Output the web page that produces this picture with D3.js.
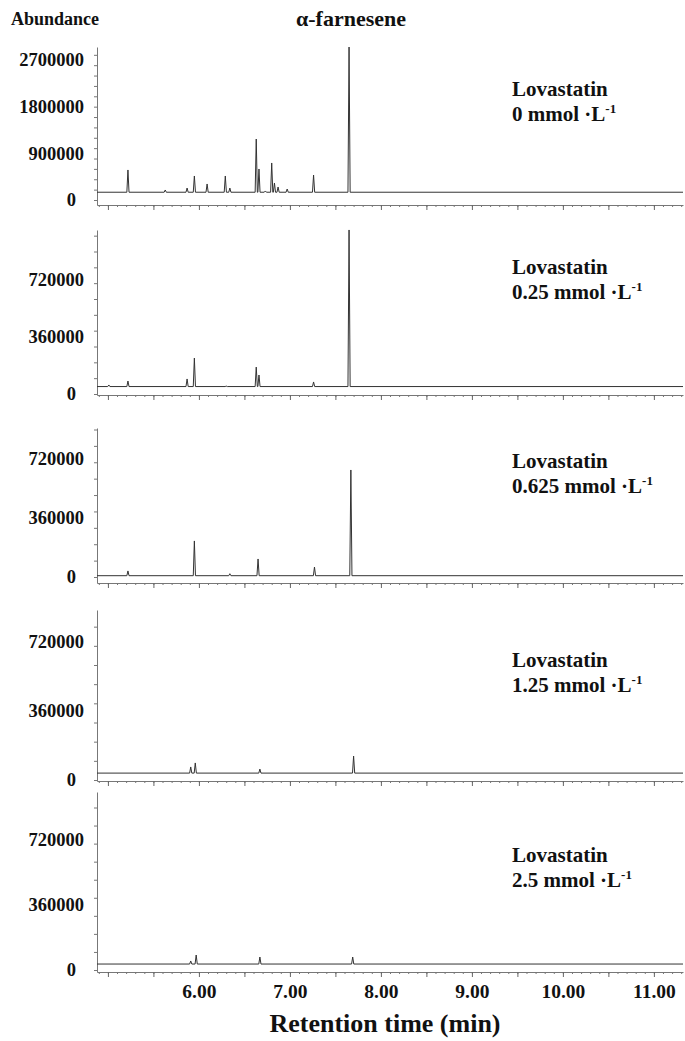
<!DOCTYPE html>
<html>
<head>
<meta charset="utf-8">
<script src="https://cdn.jsdelivr.net/npm/d3@7"></script>
<style>
  body { margin: 0; background: #fff; }
  text { font-family: "Liberation Serif", "DejaVu Serif", serif; font-weight: bold; fill: #111; }
</style>
</head>
<body>
<svg></svg>
<script>
var width = 685;
var height = 1041;

// chart values
var concentrations = ["0", "0.25", "0.625", "1.25", "2.5"];
var yTickValues = [
    [0, 900000, 1800000, 2700000],
    [0, 360000, 720000],
    [0, 360000, 720000],
    [0, 360000, 720000],
    [0, 360000, 720000]
];
var xTickValues = [6, 7, 8, 9, 10, 11];
var baselineLevels = [150000, 47000, 8000, 36000, 33000];
var peakTimes = [
    [5.22, 5.63, 5.87, 5.95, 6.09, 6.29, 6.34, 6.63, 6.66, 6.73, 6.80, 6.83, 6.87, 6.97, 7.26, 7.65],
    [5.01, 5.22, 5.87, 5.95, 6.30, 6.63, 6.66, 7.26, 7.65],
    [5.22, 5.95, 6.34, 6.65, 7.27, 7.67],
    [5.91, 5.96, 6.67, 7.70],
    [5.91, 5.97, 6.67, 7.69]
];
var peakHeights = [
    [579000, 193000, 231000, 463000, 309000, 463000, 231000, 1176000, 598000, 174000, 714000, 328000, 251000, 212000, 482000, 2950000],
    [57000, 82000, 95000, 227000, 50000, 170000, 120000, 76000, 1036000],
    [37000, 220000, 20000, 110000, 61000, 653000],
    [68000, 89000, 57000, 125000],
    [50000, 83000, 72000, 72000]
];

// layout of the five stacked panels (pixels)
var zeroY = [200, 394, 577, 780, 970];
var tickTopY = [60, 280, 459, 642, 840];
var topY = [47, 230, 428, 610, 792];
var axisY = [205, 395, 583, 781, 972];
var labelY = [96, 274, 468, 667, 862];
var left = 97;
var right = 683;
var halfWidth = 0.012;

var xScale = d3.scaleLinear()
    .domain([4.88, 11.32])
    .range([left, right]);

var svg = d3.select("svg")
    .attr("width", width)
    .attr("height", height);

concentrations.forEach(function(conc, i) {
    var ticks = yTickValues[i];
    var y0 = d3.scaleLinear()
        .domain([0, ticks[ticks.length - 1]])
        .range([zeroY[i], tickTopY[i]]);
    var yScale = d3.scaleLinear()
        .domain([y0.invert(axisY[i]), y0.invert(topY[i])])
        .range([axisY[i], topY[i]]);

    var g = svg.append("g");

    //x axis of the panel, minor and major ticks
    g.append("g")
        .attr("transform", "translate(0," + axisY[i] + ")")
        .call(d3.axisBottom(xScale).ticks(65).tickSize(2).tickFormat("").tickSizeOuter(0))
        .call(s => s.selectAll("line,path").attr("stroke", "#777"));
    g.append("g")
        .attr("transform", "translate(0," + axisY[i] + ")")
        .call(d3.axisBottom(xScale).ticks(13).tickSize(5).tickFormat("").tickSizeOuter(0))
        .call(s => s.select(".domain").remove())
        .call(s => s.selectAll("line").attr("stroke", "#666"));

    //y axis with minor ticks
    g.append("g")
        .attr("transform", "translate(" + left + ",0)")
        .call(d3.axisLeft(yScale).ticks(i == 0 ? 10 : 8).tickSize(3).tickFormat("").tickSizeOuter(0))
        .call(s => s.selectAll("line,path").attr("stroke", "#777"));

    //y tick labels
    var yAxis = g.append("g")
        .attr("transform", "translate(" + left + ",0)")
        .call(d3.axisLeft(y0).tickValues(ticks).tickSize(0).tickPadding(13).tickFormat(d3.format("d")));
    yAxis.select(".domain").remove();
    yAxis.selectAll("text")
        .style("font-family", "'Liberation Serif', serif")
        .style("font-weight", "bold")
        .style("font-size", "18.5px")
        .attr("fill", "#111")
        .filter(d => d === 0)
        .attr("x", -21);

    //chromatogram trace
    var base = baselineLevels[i];
    var pts = [[xScale.domain()[0], base]];
    peakTimes[i].forEach(function(t, j) {
        pts.push([t - halfWidth, base]);
        pts.push([t, peakHeights[i][j]]);
        pts.push([t + halfWidth, base]);
    });
    pts.push([xScale.domain()[1], base]);

    var line = d3.line()
        .x(d => xScale(d[0]))
        .y(d => yScale(d[1]));

    g.append("path")
        .datum(pts)
        .attr("fill", "none")
        .attr("stroke", "#333")
        .attr("stroke-width", 1)
        .attr("d", line);

    //treatment label
    var lab = g.append("text")
        .attr("x", 512)
        .attr("y", labelY[i])
        .style("font-size", "21px");
    lab.append("tspan").text("Lovastatin");
    var l2 = g.append("text")
        .attr("x", 512)
        .attr("y", labelY[i] + 25)
        .style("font-size", "21px");
    l2.append("tspan").text(conc + " mmol \u00b7L");
    l2.append("tspan")
        .attr("dy", -8)
        .style("font-size", "13px")
        .text("-1");

    //retention time labels under the last panel
    if (i == concentrations.length - 1) {
        var xAxis = g.append("g")
            .attr("transform", "translate(0," + axisY[i] + ")")
            .call(d3.axisBottom(xScale).tickValues(xTickValues).tickSize(0).tickPadding(12).tickFormat(d3.format(".2f")));
        xAxis.select(".domain").remove();
        xAxis.selectAll("text")
            .style("font-family", "'Liberation Serif', serif")
            .style("font-weight", "bold")
            .style("font-size", "19.5px")
            .attr("fill", "#111");
    }
});

//axis titles
svg.append("text")
    .attr("x", 11)
    .attr("y", 25)
    .style("font-size", "18px")
    .text("Abundance");

svg.append("text")
    .attr("x", 351)
    .attr("y", 26)
    .style("text-anchor", "middle")
    .style("font-size", "22px")
    .text("\u03b1-farnesene");

svg.append("text")
    .attr("x", 385)
    .attr("y", 1032)
    .style("text-anchor", "middle")
    .style("font-size", "26px")
    .text("Retention time (min)");
</script>
</body>
</html>
